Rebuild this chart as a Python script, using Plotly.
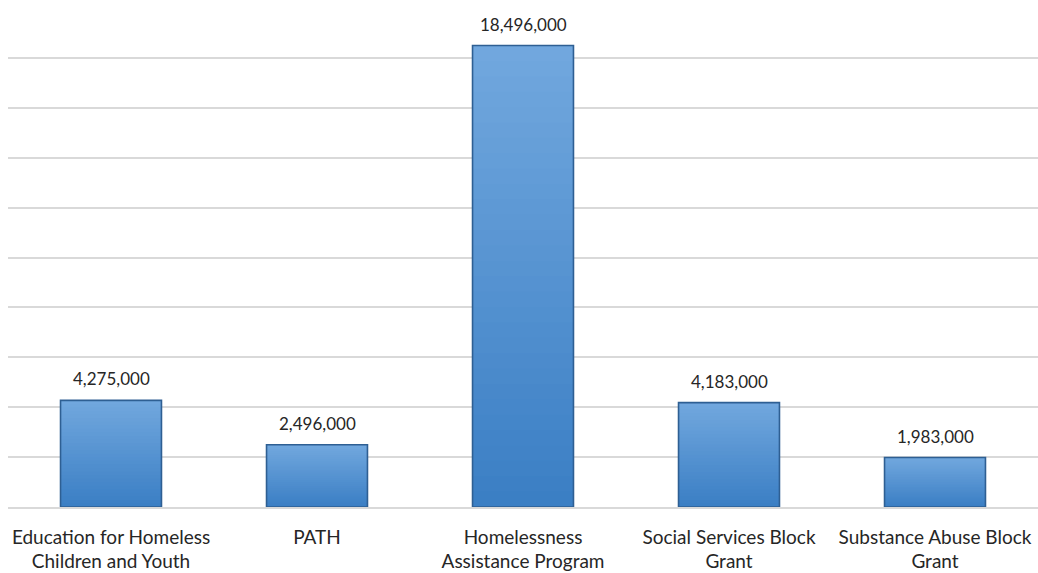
import plotly.graph_objects as go

categories = [
    "Education for Homeless<br>Children and Youth",
    "PATH",
    "Homelessness<br>Assistance Program",
    "Social Services Block<br>Grant",
    "Substance Abuse Block<br>Grant",
]
values = [4275000, 2496000, 18496000, 4183000, 1983000]

# vertical gradient for each bar: light at the top, darker at the base.
# Layers are drawn tallest first, each one from zero, so they overlap without seams.
N_LAYERS = 30
top_rgb = (114, 168, 222)
bottom_rgb = (58, 126, 196)


def blend(t):
    r = [round(b + (a - b) * t) for a, b in zip(top_rgb, bottom_rgb)]
    return f"rgb({r[0]},{r[1]},{r[2]})"


fig = go.Figure()
for k in range(N_LAYERS, 0, -1):
    t = (k - 0.5) / N_LAYERS
    fig.add_trace(go.Bar(
        x=categories,
        y=[v * k / N_LAYERS for v in values],
        marker=dict(color=blend(t), line=dict(width=0)),
        width=0.49,
        hoverinfo="skip",
        showlegend=False,
    ))

# outline over the full bar
fig.add_trace(go.Bar(
    x=categories,
    y=values,
    marker=dict(color="rgba(0,0,0,0)", line=dict(color="#2E5F93", width=1.6)),
    width=0.49,
    showlegend=False,
))

for c, v in zip(categories, values):
    fig.add_annotation(
        x=c, y=v, text=f"{v:,}", showarrow=False,
        yanchor="bottom", yshift=9,
        font=dict(family="Lato, Open Sans, sans-serif", size=17, color="#262626"),
    )

fig.update_layout(
    barmode="overlay",
    width=1038, height=573,
    margin=dict(l=8, r=0, t=8, b=66),
    plot_bgcolor="white",
    paper_bgcolor="white",
    font=dict(family="Lato, Open Sans, sans-serif", size=17, color="#262626"),
)
fig.update_xaxes(
    showgrid=False, showline=True, linecolor="#D9D9D9", linewidth=1.5,
    ticks="", ticklabelstandoff=12,
    tickfont=dict(size=19, color="#262626"),
)
fig.update_yaxes(
    range=[0, 20000000], dtick=2000000, showgrid=True,
    gridcolor="#D9D9D9", gridwidth=1.5, showticklabels=False,
    zeroline=False, showline=False,
)

fig.write_html("out.html")
